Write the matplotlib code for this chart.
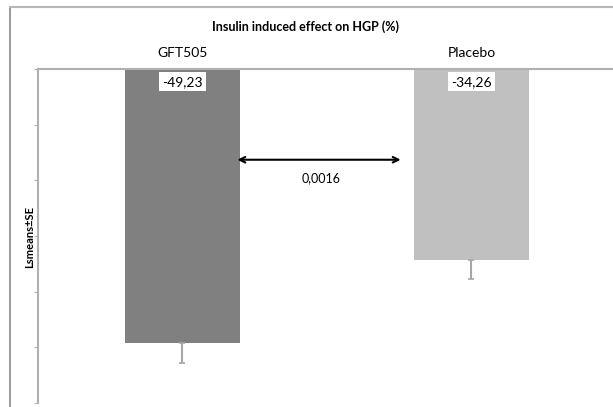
import matplotlib.pyplot as plt
from matplotlib.lines import Line2D

# Data
groups = ['GFT505', 'Placebo']
lsmeans = [-49.23, -34.26]
se = [3.6, 3.4]
value_labels = ['-49,23', '-34,26']
p_value = '0,0016'
bar_colors = ['#808080', '#c0c0c0']

plt.rcParams['font.family'] = ['Lato', 'DejaVu Sans']

fig = plt.figure(figsize=(6.13, 4.07), dpi=100)
ax = fig.add_axes([38 / 613, 4 / 407, 575 / 613, 334 / 407])

x = list(range(len(groups)))
ax.bar(x, lsmeans, width=0.4, color=bar_colors, zorder=2)
ax.errorbar(x, lsmeans, yerr=[se, [0] * len(se)], fmt='none',
            ecolor='#a6a6a6', elinewidth=1.5, capsize=2, capthick=1.2, zorder=3)

for xi, lab in zip(x, value_labels):
    ax.text(xi, -2.3, lab, ha='center', va='center', fontsize=10,
            bbox=dict(facecolor='white', edgecolor='none', pad=2.5), zorder=4)

# significance arrow between bars
ax.annotate('', xy=(0.19, -16.3), xytext=(0.755, -16.3),
            arrowprops=dict(arrowstyle='<->', color='black', lw=1.5,
                            shrinkA=0, shrinkB=0), zorder=5)
ax.text(0.48, -19.6, p_value, ha='center', va='center', fontsize=9)

ax.set_xlim(-0.5, 1.49)
ax.set_ylim(-60, 0)
ax.set_yticks(range(-60, 1, 10))
ax.set_yticklabels([])
ax.set_xticks([])
ax.tick_params(axis='y', direction='out', length=3, color='#b0b0b0', width=0.8)
for side in ['bottom', 'right']:
    ax.spines[side].set_visible(False)
ax.spines['left'].set_color('#b0b0b0')
ax.spines['left'].set_linewidth(1.5)
ax.spines['top'].set_color('#b0b0b0')
ax.spines['top'].set_linewidth(1.5)

# category labels above the plot
for xi, g in zip(x, groups):
    ax.text(xi, 1 + 16 / 334, g, transform=ax.get_xaxis_transform(),
            ha='center', va='center', fontsize=10)

fig.text(306 / 613, 1 - 27 / 407, 'Insulin induced effect on HGP (%)',
         ha='center', va='center', fontsize=9, fontweight='bold')
fig.text(30 / 613, 1 - 237 / 407, 'Lsmeans±SE', rotation=90, ha='center',
         va='center', fontsize=8, fontweight='bold')

# outer chart frame
fig.add_artist(Line2D([10 / 613, 10 / 613], [0, 1 - 7 / 407],
                      transform=fig.transFigure, color='#888888', lw=1.2))
fig.add_artist(Line2D([10 / 613, 1], [1 - 7 / 407, 1 - 7 / 407],
                      transform=fig.transFigure, color='#b8b8b8', lw=1.5))

fig.savefig('out.png', dpi=100)
